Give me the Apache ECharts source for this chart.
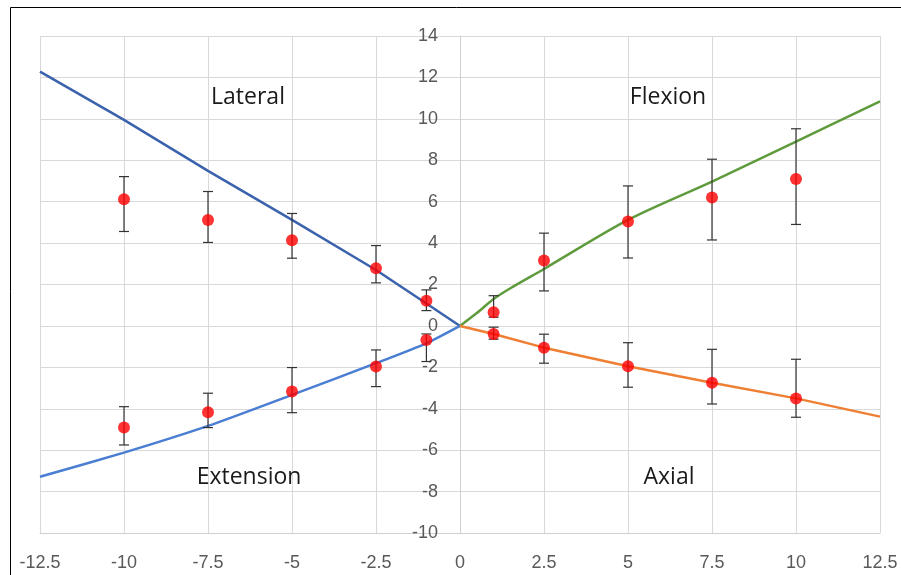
<!DOCTYPE html>
<html>
<head>
<meta charset="utf-8">
<script src="https://cdn.jsdelivr.net/npm/echarts@6/dist/echarts.min.js"></script>
<style>
    html, body { margin: 0; padding: 0; background: #fff; }
    #chart { width: 901px; height: 575px; }
</style>
</head>
<body>
<div id="chart"></div>
<script>
// model curves
const lineX_left = [-12.5, -10, -7.5, -5, -2.5, -1, 0];
const lateralLine = [12.28, 9.95, 7.49, 5.12, 2.7, 1.08, 0];
const extensionLine = [-7.28, -6.12, -4.83, -3.33, -1.8, -0.84, 0];

const flexionX = [0, 0.5, 1, 1.5, 2.5, 5, 7.5, 10, 12.5];
const flexionLine = [0, 0.62, 1.3, 1.82, 2.75, 5.12, 6.97, 8.9, 10.84];

const axialX = [0, 1, 2.5, 5, 7.5, 10, 12.5];
const axialLine = [0, -0.39, -1.05, -1.95, -2.74, -3.5, -4.38];

// measured points with error bars
const ptX_left = [-10, -7.5, -5, -2.5, -1];
const lateralMean = [6.12, 5.12, 4.14, 2.79, 1.22];
const lateralLow = [4.56, 4.03, 3.27, 2.08, 0.74];
const lateralHigh = [7.21, 6.49, 5.43, 3.88, 1.74];

const extensionMean = [-4.91, -4.17, -3.17, -1.96, -0.68];
const extensionLow = [-5.75, -4.91, -4.19, -2.93, -1.72];
const extensionHigh = [-3.9, -3.25, -2.01, -1.16, -0.39];

const ptX_right = [1, 2.5, 5, 7.5, 10];
const flexionMean = [0.66, 3.16, 5.04, 6.2, 7.1];
const flexionLow = [0.42, 1.69, 3.28, 4.15, 4.9];
const flexionHigh = [1.46, 4.48, 6.76, 8.05, 9.52];

const axialMean = [-0.39, -1.05, -1.95, -2.74, -3.5];
const axialLow = [-0.64, -1.8, -2.96, -3.77, -4.41];
const axialHigh = [-0.06, -0.4, -0.81, -1.13, -1.61];

const regionLabels = ['Lateral', 'Flexion', 'Extension', 'Axial'];

const zip = (xs, ys) => xs.map((x, i) => [x, ys[i]]);
const zip3 = (xs, lo, hi) => xs.map((x, i) => [x, lo[i], hi[i]]);

const errData = [].concat(
    zip3(ptX_left, lateralLow, lateralHigh),
    zip3(ptX_left, extensionLow, extensionHigh),
    zip3(ptX_right, flexionLow, flexionHigh),
    zip3(ptX_right, axialLow, axialHigh)
);
const dotData = [].concat(
    zip(ptX_left, lateralMean),
    zip(ptX_left, extensionMean),
    zip(ptX_right, flexionMean),
    zip(ptX_right, axialMean)
);

const tickFont = "'Liberation Sans', Arial, sans-serif";
const labelFont = "'Open Sans', 'Liberation Sans', sans-serif";

function lineSeries(name, xs, ys, color, smooth) {
    return {
        name: name,
        type: 'line',
        data: zip(xs, ys),
        showSymbol: false,
        smooth: smooth || false,
        lineStyle: { color: color, width: 2.5 },
        z: 2,
        silent: true
    };
}

function regionText(text, x, y) {
    return {
        type: 'text',
        x: x,
        y: y,
        z: 10,
        silent: true,
        style: {
            text: text,
            fill: '#1a1a1a',
            fontSize: 23,
            fontFamily: labelFont,
            align: 'center',
            verticalAlign: 'middle'
        }
    };
}

const chart = echarts.init(document.getElementById('chart'));

chart.setOption({
    animation: false,
    backgroundColor: '#fff',
    grid: { left: 40, right: 21, top: 36, bottom: 42 },
    xAxis: {
        type: 'value',
        min: -12.5,
        max: 12.5,
        interval: 2.5,
        axisLine: { onZero: false, lineStyle: { color: '#d0d0d0', width: 1 } },
        axisTick: { show: false },
        splitLine: { lineStyle: { color: '#d9d9d9', width: 1 } },
        axisLabel: {
            color: '#595959',
            fontSize: 18,
            fontFamily: tickFont,
            margin: 21
        }
    },
    yAxis: {
        type: 'value',
        min: -10,
        max: 14,
        interval: 2,
        position: 'left',
        offset: -420, // sits on x = 0
        axisLine: { onZero: false, lineStyle: { color: '#d0d0d0', width: 1 } },
        axisTick: { show: false },
        splitLine: { lineStyle: { color: '#d9d9d9', width: 1 } },
        axisLabel: {
            color: '#595959',
            fontSize: 18,
            fontFamily: tickFont,
            margin: 22
        }
    },
    graphic: [
        {
            type: 'rect',
            shape: { x: 10.5, y: 7.5, width: 910, height: 600 },
            style: { fill: 'none', stroke: '#000', lineWidth: 1 },
            silent: true
        },
        regionText(regionLabels[0], 248, 97),
        regionText(regionLabels[1], 668, 97),
        regionText(regionLabels[2], 249, 477),
        regionText(regionLabels[3], 669, 477)
    ],
    series: [
        lineSeries('Lateral', lineX_left, lateralLine, '#3b62ad'),
        lineSeries('Extension', lineX_left, extensionLine, '#4a7ed3', 0.2),
        lineSeries('Flexion', flexionX, flexionLine, '#5f9b3d', 0.3),
        lineSeries('Axial', axialX, axialLine, '#ee7f33'),
        {
            type: 'custom',
            data: errData,
            z: 3,
            silent: true,
            renderItem: function (params, api) {
                const x = api.value(0);
                const lo = api.coord([x, api.value(1)]);
                const hi = api.coord([x, api.value(2)]);
                const cap = 5;
                const style = { stroke: '#333', lineWidth: 1.2 };
                return {
                    type: 'group',
                    children: [
                        { type: 'line', shape: { x1: lo[0], y1: lo[1], x2: hi[0], y2: hi[1] }, style: style },
                        { type: 'line', shape: { x1: lo[0] - cap, y1: lo[1], x2: lo[0] + cap, y2: lo[1] }, style: style },
                        { type: 'line', shape: { x1: hi[0] - cap, y1: hi[1], x2: hi[0] + cap, y2: hi[1] }, style: style }
                    ]
                };
            }
        },
        {
            type: 'scatter',
            data: dotData,
            symbol: 'circle',
            symbolSize: 12,
            itemStyle: { color: '#ff0000' },
            z: 4,
            silent: true
        }
    ]
});
</script>
</body>
</html>
